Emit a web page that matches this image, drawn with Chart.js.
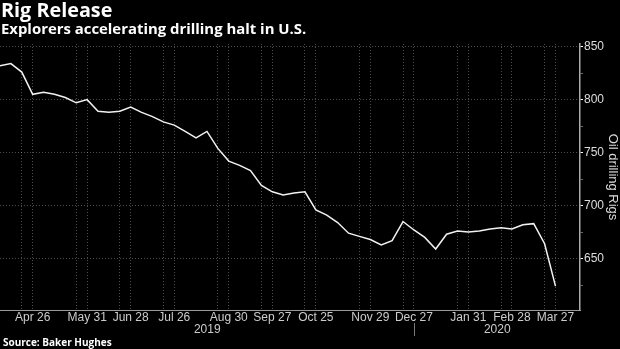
<!DOCTYPE html>
<html lang="en">
<head>
  <meta charset="UTF-8" />
  <script src="https://cdn.jsdelivr.net/npm/chart.js"></script>
  <title>Rig Release</title>
  <style>
    html, body { margin: 0; padding: 0; background: #000; }
    #marco { position: relative; width: 620px; height: 349px; overflow: hidden; background: #000; }
    #grafico { position: absolute; left: 0; top: 0; }
    .texto { position: absolute; left: 1px; color: #fff; font-family: "Open Sans", sans-serif; font-weight: bold; white-space: nowrap; line-height: 1; }
    #titulo { top: 0px; font-size: 19.8px; }
    #subtitulo { top: 21px; font-size: 14.9px; }
    #fuente { top: 337px; left: 3px; font-size: 10px; }
  </style>
</head>
<body>
  <div id="marco">
    <canvas id="grafico" width="620" height="349"></canvas>
    <div class="texto" id="titulo">Rig Release</div>
    <div class="texto" id="subtitulo">Explorers accelerating drilling halt in U.S.</div>
    <div class="texto" id="fuente">Source: Baker Hughes</div>
  </div>
  <script>
    // semanas (viernes) abr 2019 - mar 2020
    const semanas = [
      'Apr 5', 'Apr 12', 'Apr 19', 'Apr 26', 'May 3', 'May 10', 'May 17', 'May 24', 'May 31',
      'Jun 7', 'Jun 14', 'Jun 21', 'Jun 28', 'Jul 5', 'Jul 12', 'Jul 19', 'Jul 26',
      'Aug 2', 'Aug 9', 'Aug 16', 'Aug 23', 'Aug 30', 'Sep 6', 'Sep 13', 'Sep 20', 'Sep 27',
      'Oct 4', 'Oct 11', 'Oct 18', 'Oct 25', 'Nov 1', 'Nov 8', 'Nov 15', 'Nov 22', 'Nov 29',
      'Dec 6', 'Dec 13', 'Dec 20', 'Dec 27', 'Jan 3', 'Jan 10', 'Jan 17', 'Jan 24', 'Jan 31',
      'Feb 7', 'Feb 14', 'Feb 21', 'Feb 28', 'Mar 6', 'Mar 13', 'Mar 20', 'Mar 27'
    ];
    const rigs = [
      832, 834, 826, 805, 807, 805, 802, 797, 800,
      789, 788, 789, 793, 788, 784, 779, 776,
      770, 764, 770, 754, 742, 738, 733, 719, 713,
      710, 712, 713, 696, 691, 684, 674, 671, 668,
      663, 667, 685, 677, 670, 659, 673, 676, 675,
      676, 678, 679, 678, 682, 683, 664, 624
    ];
    const etiquetasEje = ['Apr 26', 'May 31', 'Jun 28', 'Jul 26', 'Aug 30', 'Sep 27', 'Oct 25',
                          'Nov 29', 'Dec 27', 'Jan 31', 'Feb 28', 'Mar 27'];
    const anios = ['2019', '2020'];
    const corteAnio = 'Dec 27';

    // lineas verticales: semana etiquetada y la anterior
    const semanasGrid = new Set();
    etiquetasEje.forEach(e => {
      const i = semanas.indexOf(e);
      semanasGrid.add(i);
      semanasGrid.add(i - 1);
    });

    const grisGrid = 'rgba(255,255,255,0.3)';

    // años debajo de las fechas
    const pluginAnios = {
      id: 'anios',
      afterDraw(chart) {
        const { ctx, chartArea, scales } = chart;
        const xc = Math.round(scales.x.getPixelForValue(semanas.indexOf(corteAnio))) + 0.5;
        ctx.save();
        ctx.strokeStyle = '#777';
        ctx.lineWidth = 1;
        ctx.beginPath();
        ctx.moveTo(xc, chartArea.bottom + 13);
        ctx.lineTo(xc, chartArea.bottom + 26);
        ctx.stroke();
        ctx.fillStyle = '#ccc';
        ctx.font = '12px "Liberation Sans"';
        ctx.textAlign = 'center';
        ctx.textBaseline = 'middle';
        ctx.fillText(anios[0], (chartArea.left + xc) / 2, 330);
        ctx.fillText(anios[1], (xc + chartArea.right) / 2, 330);
        ctx.restore();
      }
    };

    const ctx = document.getElementById('grafico').getContext('2d');
    new Chart(ctx, {
      type: 'line',
      data: {
        datasets: [{
          label: 'Oil drilling Rigs',
          data: rigs.map((v, i) => ({ x: i, y: v })),
          borderColor: '#f2f2f2',
          borderWidth: 1.5,
          pointRadius: 0,
          tension: 0,
          fill: false
        }]
      },
      options: {
        responsive: false,
        animation: false,
        devicePixelRatio: 1,
        layout: { padding: { top: 44, left: 0, right: 0, bottom: 0 } },
        plugins: {
          legend: { display: false },
          tooltip: { enabled: false }
        },
        scales: {
          x: {
            type: 'linear',
            min: 0,
            max: 53.25,
            afterFit: s => { s.height = 39; },
            grid: {
              color: c => semanasGrid.has(c.tick.value) ? grisGrid : 'transparent',
              drawTicks: false
            },
            border: { color: '#999', width: 1, dash: [1, 2] },
            ticks: {
              stepSize: 1,
              autoSkip: false,
              includeBounds: false,
              maxRotation: 0,
              minRotation: 0,
              padding: 0,
              color: '#ccc',
              font: { family: 'Liberation Sans', size: 12 },
              callback: v => etiquetasEje.includes(semanas[v]) ? semanas[v] : ''
            }
          },
          y: {
            position: 'right',
            min: 601.5,
            max: 852.5,
            afterFit: s => { s.width = 40; },
            grid: {
              color: c => c.tick.value % 50 === 0 ? grisGrid : 'transparent',
              tickColor: c => c.tick.value % 50 === 0 ? '#fff' : '#666',
              tickLength: 3
            },
            border: { color: '#aaa', width: 1.5, dash: [1, 2] },
            ticks: {
              stepSize: 25,
              includeBounds: false,
              padding: 1,
              color: '#ddd',
              font: { family: 'Liberation Sans', size: 12 },
              callback: v => v % 50 === 0 ? v : ''
            },
            title: {
              display: true,
              text: 'Oil drilling Rigs',
              color: '#ddd',
              font: { family: 'Liberation Sans', size: 13 },
              padding: 0
            }
          }
        }
      },
      plugins: [pluginAnios]
    });
  </script>
</body>
</html>
